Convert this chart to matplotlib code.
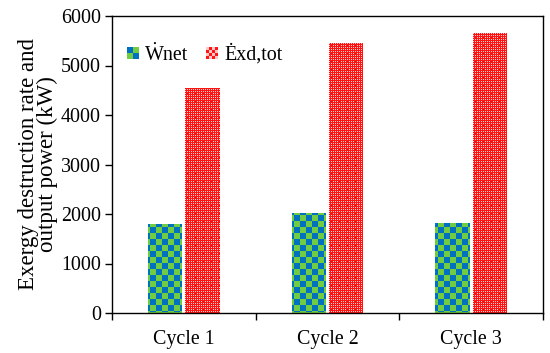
import matplotlib
matplotlib.use("Agg")
import matplotlib.pyplot as plt
import matplotlib.patches as patches
from matplotlib.legend_handler import HandlerBase
import numpy as np

plt.rcParams['font.family'] = ['Liberation Serif', 'DejaVu Serif']
plt.rcParams['font.size'] = 14.4

# Datos
cycles = ['Cycle 1', 'Cycle 2', 'Cycle 3']
w_net = [1790, 2020, 1810]
ex_dtot = [4550, 5450, 5660]
series_labels = ['Ẇnet', 'Ėxd,tot']

BLUE = np.array([0, 112, 192]) / 255
GREEN = np.array([112, 204, 64]) / 255
RED = np.array([255, 20, 20]) / 255
PINK = np.array([255, 200, 200]) / 255


def tex_green(xx, yy):
    checker = ((xx // 6 + yy // 6) % 2).astype(bool)
    return np.where(checker[..., None], BLUE, GREEN)


def tex_red(xx, yy):
    dots = (xx % 2 == 1) & (yy % 2 == 1)
    px, py = xx % 8, yy % 8
    plus = ((px == 3) & (np.abs(py - 3) <= 1)) | ((py == 3) & (np.abs(px - 3) <= 1))
    return np.where((dots & ~plus)[..., None], PINK, RED)


fig = plt.figure(figsize=(5.5, 3.53), dpi=100)
ax = fig.add_axes([112 / 550, 1 - 313 / 353, 431 / 550, 297 / 353])

x = np.arange(len(cycles))
width = 0.24
bars_g = ax.bar(x - 0.13, w_net, width, color=GREEN, linewidth=0, zorder=2)
bars_r = ax.bar(x + 0.13, ex_dtot, width, color=RED, linewidth=0, zorder=2)

ax.set_xlim(-0.5, 2.5)
ax.set_ylim(0, 6000)

# Ejes
ax.set_xticks(x)
ax.set_xticklabels(cycles)
ax.set_xticks(np.arange(-0.5, 3, 1), minor=True)
ax.tick_params(axis='x', which='major', length=0, pad=12)
ax.tick_params(axis='x', which='minor', length=5, width=1, direction='out')
ax.set_yticks(np.arange(0, 6001, 1000))
ax.tick_params(axis='y', length=5, width=1, direction='out', pad=3)
for s in ax.spines.values():
    s.set_linewidth(1)
    s.set_color('black')

ax.set_ylabel('Exergy destruction rate and\noutput power (kW)', fontsize=16.5,
              linespacing=0.85, labelpad=2)

# Texturas: imagen de figura pixel a pixel encima de cada barra
for bars, texf in [(bars_g, tex_green), (bars_r, tex_red)]:
    for b in bars:
        pb = b.get_window_extent()
        x0, y0 = int(round(pb.x0)), int(round(pb.y0)) + 1
        x1, y1 = int(round(pb.x1)), int(round(pb.y1))
        w, h = max(x1 - x0, 1), max(y1 - y0, 1)
        yy, xx = np.mgrid[0:h, 0:w]
        img = texf(xx + x0, yy + y0)
        fig.figimage(img, xo=x0, yo=y0, origin='lower', zorder=1)


# Leyenda con cuadritos
class CheckerHandler(HandlerBase):
    def __init__(self, c1, c2, n):
        super().__init__()
        self.c1, self.c2, self.n = c1, c2, n

    def create_artists(self, legend, orig_handle, xdescent, ydescent,
                       width, height, fontsize, trans):
        arts = []
        s = min(width, height)
        d = s / self.n
        x0 = -xdescent
        y0 = -ydescent + (height - s) / 2
        for i in range(self.n):
            for j in range(self.n):
                c = self.c1 if (i + j) % 2 == 0 else self.c2
                arts.append(patches.Rectangle((x0 + i * d, y0 + j * d), d, d,
                                              facecolor=c, edgecolor='none',
                                              transform=trans))
        return arts


h_g = patches.Patch(color=GREEN)
h_r = patches.Patch(color=RED)
ax.legend([h_g, h_r], series_labels, loc='upper left',
          bbox_to_anchor=(0.035, 0.905), ncol=2, frameon=False,
          borderpad=0, borderaxespad=0, handlelength=0.6, handleheight=0.6,
          handletextpad=0.3, columnspacing=0.9,
          handler_map={h_g: CheckerHandler(GREEN, BLUE, 2),
                       h_r: CheckerHandler(RED, PINK, 4)})

fig.savefig('out.png', dpi=100)
